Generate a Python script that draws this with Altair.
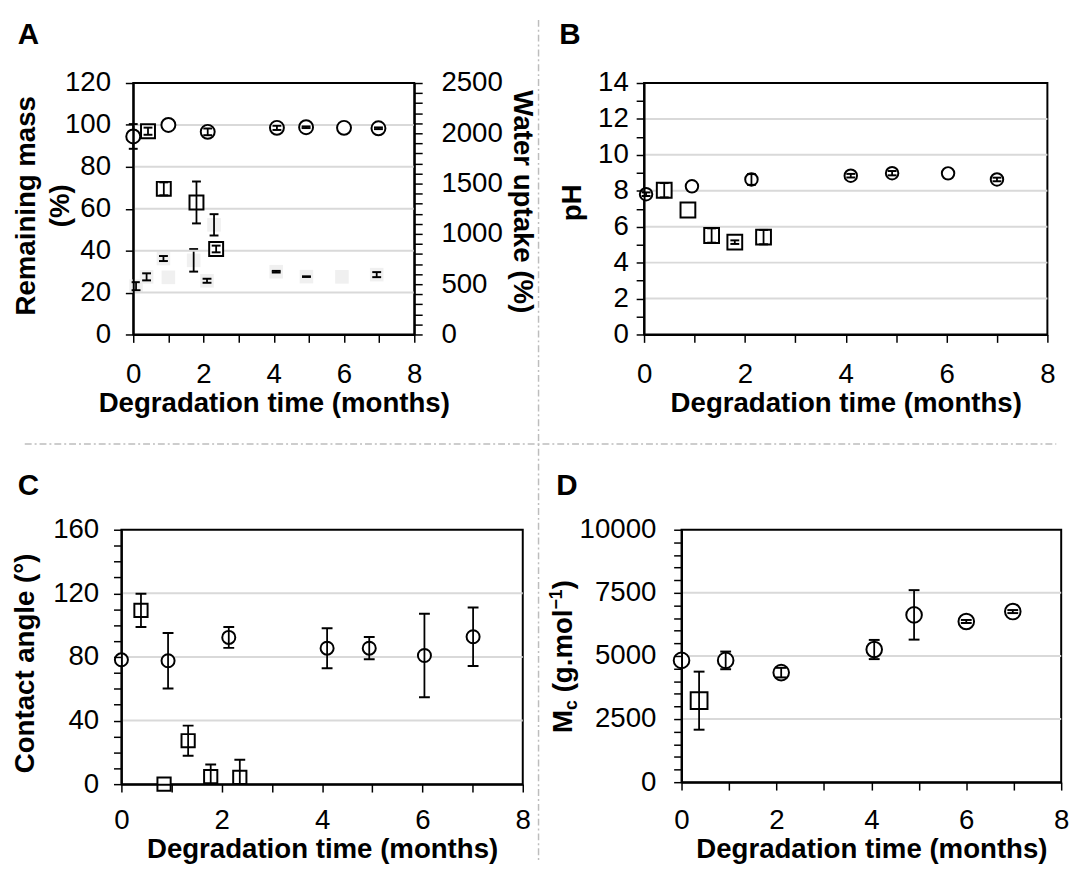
import altair as alt
import pandas as pd

FONT = "Liberation Sans"
GRID = "#d9d9d9"
SEP = "#bdbdbd"

# ---------------- data ----------------
# Panel A: remaining mass (%)  (left axis)
a_circ_t = [0.0, 1.0, 2.12, 4.09, 4.92, 6.0, 6.98]
a_circ_mass = [94.5, 100.0, 96.7, 98.6, 98.9, 98.6, 98.4]
a_circ_mass_err = [5.9, 0.0, 1.6, 1.0, 0.4, 0.0, 0.4]
a_sq_t = [0.42, 0.87, 1.8, 2.36]
a_sq_mass = [97.0, 69.5, 63.0, 40.8]
a_sq_mass_err = [1.7, 3.1, 10.0, 1.6]
# Panel A: water uptake (%)  (right axis)
a_circ_w_t = [0.08, 1.0, 2.1, 4.07, 4.93, 5.94, 6.93]
a_circ_w = [480, 568, 534, 624, 575, 573, 595]
a_circ_w_err = [40, 0, 20, 8, 3, 0, 25]
a_sq_w_t = [0.38, 0.86, 1.72, 2.3]
a_sq_w = [573, 755, 737, 1090]
a_sq_w_err = [35, 25, 112, 106]

# Panel B: pH
b_circ_t = [0.04, 0.95, 2.13, 4.1, 4.92, 6.03, 7.0]
b_circ_ph = [7.81, 8.25, 8.63, 8.84, 8.98, 8.97, 8.63]
b_circ_err = [0.1, 0.0, 0.3, 0.1, 0.12, 0.0, 0.1]
b_sq_t = [0.4, 0.87, 1.34, 1.8, 2.37]
b_sq_ph = [8.03, 6.93, 5.51, 5.14, 5.42]
b_sq_err = [0.4, 0.0, 0.4, 0.1, 0.4]

# Panel C: contact angle (deg)
c_circ_t = [0.0, 0.93, 2.14, 4.1, 4.94, 6.04, 7.01]
c_circ_ang = [78.2, 77.6, 92.3, 85.5, 85.5, 80.9, 92.7]
c_circ_err = [0.0, 17.4, 6.6, 12.6, 7.0, 26.3, 18.4]
c_sq_t = [0.39, 0.85, 1.33, 1.78, 2.36]
c_sq_ang = [109.3, 0.0, 27.3, 4.8, 4.3]
c_sq_err = [10.5, 0.0, 9.5, 7.5, 11.0]

# Panel D: Mc (g/mol)
d_circ_t = [0.0, 0.93, 2.1, 4.06, 4.9, 6.0, 6.98]
d_circ_mc = [4824, 4824, 4340, 5255, 6627, 6366, 6758]
d_circ_err = [0, 350, 190, 380, 980, 60, 60]
d_sq_t = [0.37]
d_sq_mc = [3229]
d_sq_err = [1150]

# gridline values
a_grid = [20, 40, 60, 80, 100]
b_grid = [2, 4, 6, 8, 10, 12]
c_grid = [40, 80, 120]
d_grid = [2500, 5000, 7500]

XS = alt.Scale(domain=[0, 8], nice=False, zero=False)
IND = dict(x="independent", y="independent")


def frame(t, v, e):
    return pd.DataFrame({"t": t, "v": v, "e": e})


def x_axis(lab_base, title_base):
    return alt.Axis(
        orient="bottom", values=list(range(0, 9)),
        labelExpr="datum.value % 2 === 0 ? datum.label : ''",
        format="d", grid=False, tickSize=8, tickWidth=1.5, tickColor="black",
        domainColor="black", domainWidth=2,
        labelFont=FONT, labelFontSize=28, labelColor="black",
        labelBaseline="alphabetic", labelPadding=lab_base - 8,
        labelFlush=False, labelOverlap=False, labelBound=False,
        title="Degradation time (months)", titleFont=FONT, titleFontSize=28,
        titleFontWeight="bold", titleColor="black", titleBaseline="alphabetic",
        titleY=title_base, zindex=1)


def y_axis(step, label_step, maxv, label_pad, title, title_x, title_y,
           orient="left", angle=270):
    return alt.Axis(
        orient=orient, values=list(range(0, maxv + 1, step)),
        labelExpr=f"datum.value % {label_step} === 0 ? datum.label : ''",
        format="d", grid=False, tickSize=8, tickWidth=1.5, tickColor="black",
        domainColor="black", domainWidth=2,
        labelFont=FONT, labelFontSize=28, labelColor="black",
        labelPadding=label_pad, labelOverlap=False, labelFlush=False,
        labelBound=False,
        title=title, titleFont=FONT, titleFontSize=28, titleFontWeight="bold",
        titleColor="black", titleAngle=angle, titleBaseline="alphabetic",
        titleAlign="center", titleX=title_x, titleY=title_y,
        titleLineHeight=34, zindex=1)


def series(d, shape, size, ys, cap, clip=False):
    x = alt.X("t:Q", scale=XS, axis=None)
    mk = alt.Chart(d).mark_point(
        shape=shape, filled=True, fill="white", stroke="black", strokeWidth=2,
        size=size, opacity=1, fillOpacity=1, strokeOpacity=1
    ).encode(x=x, y=alt.Y("v:Q", scale=ys, axis=None))
    eb = alt.Chart(d).transform_filter("datum.e > 0").transform_calculate(
        lo="datum.v - datum.e", hi="datum.v + datum.e")
    rule = eb.mark_rule(color="black", strokeWidth=1.8, clip=clip).encode(
        x=x, y=alt.Y("lo:Q", scale=ys, axis=None), y2="hi:Q")
    lo = eb.mark_tick(orient="horizontal", color="black", size=cap,
                      thickness=2, opacity=1, clip=clip).encode(
        x=x, y=alt.Y("lo:Q", scale=ys, axis=None))
    hi = eb.mark_tick(orient="horizontal", color="black", size=cap,
                      thickness=2, opacity=1, clip=clip).encode(
        x=x, y=alt.Y("hi:Q", scale=ys, axis=None))
    return [mk, rule, lo, hi]


def faint(d, ys, cap):
    x = alt.X("t:Q", scale=XS, axis=None)
    mk = alt.Chart(d).mark_point(
        shape="square", filled=True, fill="#f0f0f0", strokeOpacity=0,
        size=190, opacity=1
    ).encode(x=x, y=alt.Y("v:Q", scale=ys, axis=None))
    eb = alt.Chart(d).transform_filter("datum.e > 0").transform_calculate(
        lo="datum.v - datum.e", hi="datum.v + datum.e")
    rule = eb.mark_rule(color="black", strokeWidth=1.8).encode(
        x=x, y=alt.Y("lo:Q", scale=ys, axis=None), y2="hi:Q")
    lo = eb.mark_tick(orient="horizontal", color="black", size=cap,
                      thickness=2, opacity=1).encode(
        x=x, y=alt.Y("lo:Q", scale=ys, axis=None))
    hi = eb.mark_tick(orient="horizontal", color="black", size=cap,
                      thickness=2, opacity=1).encode(
        x=x, y=alt.Y("hi:Q", scale=ys, axis=None))
    return [mk, rule, lo, hi]


def carrier(d, ys, yax, xax=None):
    if xax is None:
        xe = alt.X("t:Q", scale=XS, axis=None)
    else:
        xe = alt.X("t:Q", scale=XS, axis=xax)
    return alt.Chart(d).mark_point(opacity=0).encode(
        x=xe, y=alt.Y("v:Q", scale=ys, axis=yax))


def gridlines(vals, ys):
    return alt.Chart(pd.DataFrame({"g": vals})).mark_rule(
        color=GRID, strokeWidth=2).encode(y=alt.Y("g:Q", scale=ys, axis=None))


one = pd.DataFrame({"z": [0]})


def label_text(txt, x, y, size=30, angle=0, align="left"):
    return alt.Chart(one).mark_text(
        text=txt, angle=angle, align=align, baseline="alphabetic", font=FONT,
        fontSize=size, fontWeight="bold", color="black").encode(
        x=alt.value(x), y=alt.value(y))


# ---------------- Panel A ----------------
YA = alt.Scale(domain=[0, 120], nice=False)
YW = alt.Scale(domain=[0, 2500], nice=False)
a_c = frame(a_circ_t, a_circ_mass, a_circ_mass_err)
a_s = frame(a_sq_t, a_sq_mass, a_sq_mass_err)
a_cw = frame(a_circ_w_t, a_circ_w, a_circ_w_err)
a_sw = frame(a_sq_w_t, a_sq_w, a_sq_w_err)

water = alt.layer(
    carrier(a_cw, YW,
            y_axis(100, 500, 2500, 19, "Water uptake (%)", 101, 120,
                   orient="right", angle=90)),
    *faint(a_cw, YW, 9), *faint(a_sw, YW, 9)).resolve_axis(**IND)
mass = alt.layer(
    gridlines(a_grid, YA),
    carrier(a_c, YA,
            y_axis(20, 20, 120, 15, ["Remaining mass", "(%)"], -100, 124),
            x_axis(49, 78)),
    *series(a_c, "circle", 200, YA, 9), *series(a_s, "square", 200, YA, 9),
).resolve_axis(**IND)
deco = alt.layer(
    label_text("A", -117, -40),
    # separators of the figure
    alt.Chart(one).mark_rule(color=SEP, strokeWidth=1.5, strokeDash=[7, 3, 2, 3]).encode(
        x=alt.value(411), y=alt.value(-64), y2=alt.value(791)),
    alt.Chart(one).mark_rule(color=SEP, strokeWidth=1.5, strokeDash=[7, 3, 2, 3]).encode(
        x=alt.value(-110), x2=alt.value(936), y=alt.value(366)),
    # invisible anchor fixing the page origin
    alt.Chart(one).mark_rule(strokeOpacity=0, strokeWidth=0.01).encode(
        x=alt.value(-126), x2=alt.value(-125), y=alt.value(-69)),
)
panel_a = alt.layer(water, mass, deco).resolve_scale(y="independent").resolve_axis(
    **IND).properties(width=285, height=255)

# ---------------- Panel B ----------------
YB = alt.Scale(domain=[0, 14], nice=False)
b_c = frame(b_circ_t, b_circ_ph, b_circ_err)
b_s = frame(b_sq_t, b_sq_ph, b_sq_err)
panel_b = alt.layer(
    gridlines(b_grid, YB),
    carrier(b_c, YB, y_axis(1, 2, 14, 8, "pH", -64, 121), x_axis(49, 78)),
    *series(b_c, "circle", 160, YB, 9), *series(b_s, "square", 225, YB, 9),
    label_text("B", -86, -40),
).resolve_axis(**IND).properties(width=409, height=255)

# ---------------- Panel C ----------------
YC = alt.Scale(domain=[0, 160], nice=False)
c_c = frame(c_circ_t, c_circ_ang, c_circ_err)
c_s = frame(c_sq_t, c_sq_ang, c_sq_err)
panel_c = alt.layer(
    gridlines(c_grid, YC),
    carrier(c_c, YC, y_axis(10, 40, 160, 15, "Contact angle (°)", -89, 135),
            x_axis(45, 74)),
    *series(c_c, "circle", 175, YC, 11, clip=True),
    *series(c_s, "square", 180, YC, 11, clip=True),
    label_text("C", -105, -35),
).resolve_axis(**IND).properties(width=407, height=258)

# ---------------- Panel D ----------------
YD = alt.Scale(domain=[0, 10000], nice=False)
d_c = frame(d_circ_t, d_circ_mc, d_circ_err)
d_s = frame(d_sq_t, d_sq_mc, d_sq_err)

panel_d = alt.layer(
    gridlines(d_grid, YD),
    carrier(d_c, YD, y_axis(500, 2500, 10000, 18, "", -111, 128), x_axis(47, 76)),
    *series(d_c, "circle", 250, YD, 11), *series(d_s, "square", 290, YD, 11),
    label_text("D", -127, -35),
    # y-axis title  M_c (g.mol^-1), built from pieces
    label_text("M", -111, 206, 28, 270),
    label_text("c", -106, 182.7, 18, 270),
    label_text("(g.mol", -111, 164.9, 28, 270),
    label_text("\u22121", -121, 80.9, 18, 270),
    label_text(")", -111, 60.4, 28, 270),
).resolve_axis(**IND).properties(width=385, height=256)

spacer = alt.Chart(one).mark_point(opacity=0).encode(
    x=alt.value(0), y=alt.value(0)).properties(
    width=12, height=255, view=alt.ViewBackground(strokeOpacity=0))

row1 = alt.hconcat(spacer, alt.hconcat(panel_a, panel_b, spacing=233, bounds="flush"),
                   spacing=0, bounds="flush")
row2 = alt.hconcat(panel_c, panel_d, spacing=161, bounds="flush")
chart = alt.vconcat(row1, row2, spacing=453, bounds="flush").properties(
    padding={"left": 0, "top": 0, "right": 5, "bottom": 0},
    background="white",
).configure_view(stroke="black", strokeWidth=2)

chart.save("out.html", embed_options={"renderer": "svg", "actions": False})
